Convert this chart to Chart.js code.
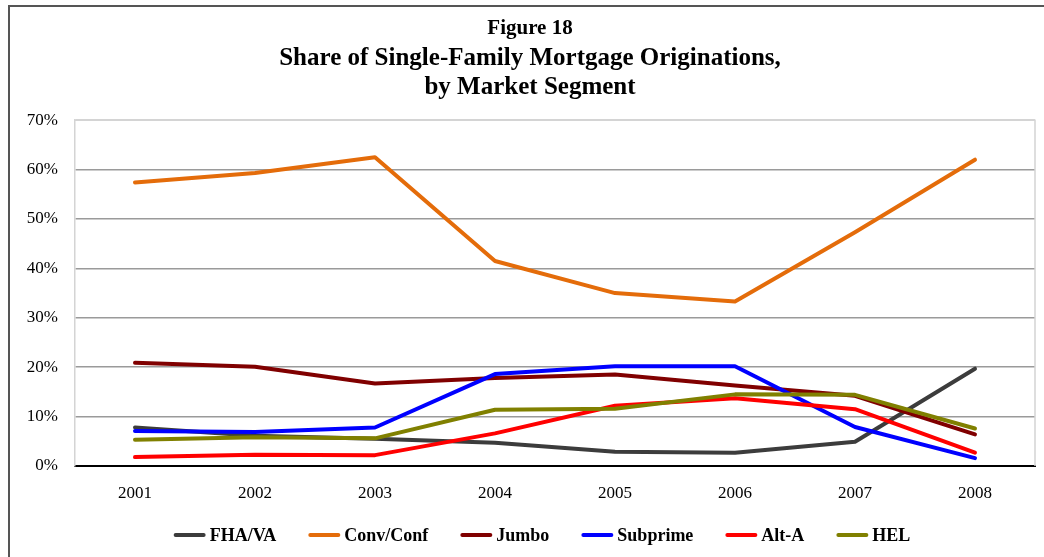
<!DOCTYPE html>
<html lang="en">
<head>
    <meta charset="UTF-8">
    <title>Figure 18 - Share of Single-Family Mortgage Originations</title>
    <script src="https://cdn.jsdelivr.net/npm/chart.js"></script>
    <style>
        html, body { margin: 0; padding: 0; background: #fff; overflow: hidden; }
        #wrap { position: relative; width: 1044px; height: 557px; }
        #frame {
            position: absolute; left: 8px; top: 5px; width: 1100px; height: 600px;
            border: 2px solid #555; pointer-events: none; box-sizing: border-box;
        }
    </style>
</head>
<body>
<div id="wrap">
    <canvas id="chart" width="1044" height="557"></canvas>
    <div id="frame"></div>
</div>
<script>
    // data (percent of originations)
    const years = ['2001', '2002', '2003', '2004', '2005', '2006', '2007', '2008'];
    const fhaVa    = [7.8, 6.1, 5.5, 4.7, 2.9, 2.7, 4.9, 19.7];
    const convConf = [57.4, 59.3, 62.5, 41.5, 35.0, 33.3, 47.3, 62.0];
    const jumbo    = [20.9, 20.1, 16.7, 17.8, 18.5, 16.3, 14.2, 6.4];
    const subprime = [7.1, 6.9, 7.8, 18.6, 20.2, 20.2, 7.9, 1.6];
    const altA     = [1.8, 2.3, 2.2, 6.6, 12.2, 13.7, 11.5, 2.7];
    const hel      = [5.3, 5.8, 5.6, 11.4, 11.6, 14.5, 14.4, 7.6];

    const seriesNames = ['FHA/VA', 'Conv/Conf', 'Jumbo', 'Subprime', 'Alt-A', 'HEL'];
    const seriesData = [fhaVa, convConf, jumbo, subprime, altA, hel];
    const seriesColors = ['#3c3c3c', '#e46c0a', '#800000', '#0000ff', '#ff0000', '#808000'];

    const serif = "'Liberation Serif', 'Times New Roman', serif";

    // light gray frame around the plot area (top and right sides)
    const plotBorder = {
        id: 'plotBorder',
        beforeDatasetsDraw(chart) {
            const a = chart.chartArea, ctx = chart.ctx;
            ctx.save();
            ctx.strokeStyle = '#d4d4d4';
            ctx.lineWidth = 1.5;
            ctx.beginPath();
            ctx.moveTo(a.left, a.top);
            ctx.lineTo(a.right, a.top);
            ctx.lineTo(a.right, a.bottom);
            ctx.stroke();
            ctx.restore();
        }
    };

    // Excel-style legend: short thick line, small gap, bold label
    const bottomLegend = {
        id: 'bottomLegend',
        afterDraw(chart) {
            const ctx = chart.ctx;
            const lineLen = 32, gapText = 4, gapItem = 32, y = 535;
            ctx.save();
            ctx.font = 'bold 18px ' + serif;
            ctx.textBaseline = 'middle';
            const items = chart.data.datasets.map(ds => ({
                label: ds.label, color: ds.borderColor,
                w: lineLen + gapText + ctx.measureText(ds.label).width
            }));
            const total = items.reduce((s, it) => s + it.w, 0) + gapItem * (items.length - 1);
            let x = chart.width / 2 + 20 - total / 2;
            items.forEach(it => {
                ctx.strokeStyle = it.color;
                ctx.lineWidth = 4;
                ctx.lineCap = 'round';
                ctx.beginPath();
                ctx.moveTo(x + 2, y);
                ctx.lineTo(x + lineLen - 2, y);
                ctx.stroke();
                ctx.fillStyle = '#000';
                ctx.fillText(it.label, x + lineLen + gapText, y + 1);
                x += it.w + gapItem;
            });
            ctx.restore();
        }
    };

    const datasets = seriesNames.map((name, i) => ({
        label: name,
        data: seriesData[i],
        borderColor: seriesColors[i],
        backgroundColor: seriesColors[i],
        borderWidth: 4,
        borderCapStyle: 'round',
        borderJoinStyle: 'round',
        pointRadius: 0,
        tension: 0,
        order: seriesNames.length - i   // later series drawn on top, like Excel
    }));

    new Chart(document.getElementById('chart'), {
        type: 'line',
        data: { labels: years, datasets: datasets },
        options: {
            responsive: false,
            animation: false,
            layout: { padding: { left: 25, right: 9, top: 16, bottom: 51 } },
            plugins: {
                title: {
                    display: true,
                    text: 'Figure 18',
                    color: '#000',
                    font: { family: serif, size: 21, weight: 'bold' },
                    padding: { top: 0, bottom: 0 }
                },
                subtitle: {
                    display: true,
                    text: ['Share of Single-Family Mortgage Originations,', 'by Market Segment'],
                    color: '#000',
                    font: { family: serif, size: 25, weight: 'bold', lineHeight: 1.16 },
                    padding: { top: 3, bottom: 18 }
                },
                legend: { display: false },
                tooltip: { enabled: false }
            },
            scales: {
                x: {
                    offset: true,
                    grid: { display: false, drawTicks: false },
                    border: { color: '#000', width: 2 },
                    ticks: {
                        color: '#000',
                        padding: 17,
                        font: { family: serif, size: 17 }
                    },
                    afterFit(axis) { axis.height = 40; }
                },
                y: {
                    min: 0,
                    max: 70,
                    grid: {
                        drawTicks: false,
                        lineWidth: 1.5,
                        color: ctx => (ctx.tick && ctx.tick.value === 70) ? '#d4d4d4' : '#9a9a9a'
                    },
                    border: { color: '#d4d4d4', width: 1.5 },
                    ticks: {
                        stepSize: 10,
                        color: '#000',
                        padding: 17,
                        font: { family: serif, size: 17 },
                        callback: v => v + '%'
                    },
                    afterFit(axis) { axis.width = 50; }
                }
            }
        },
        plugins: [plotBorder, bottomLegend]
    });
</script>
</body>
</html>
